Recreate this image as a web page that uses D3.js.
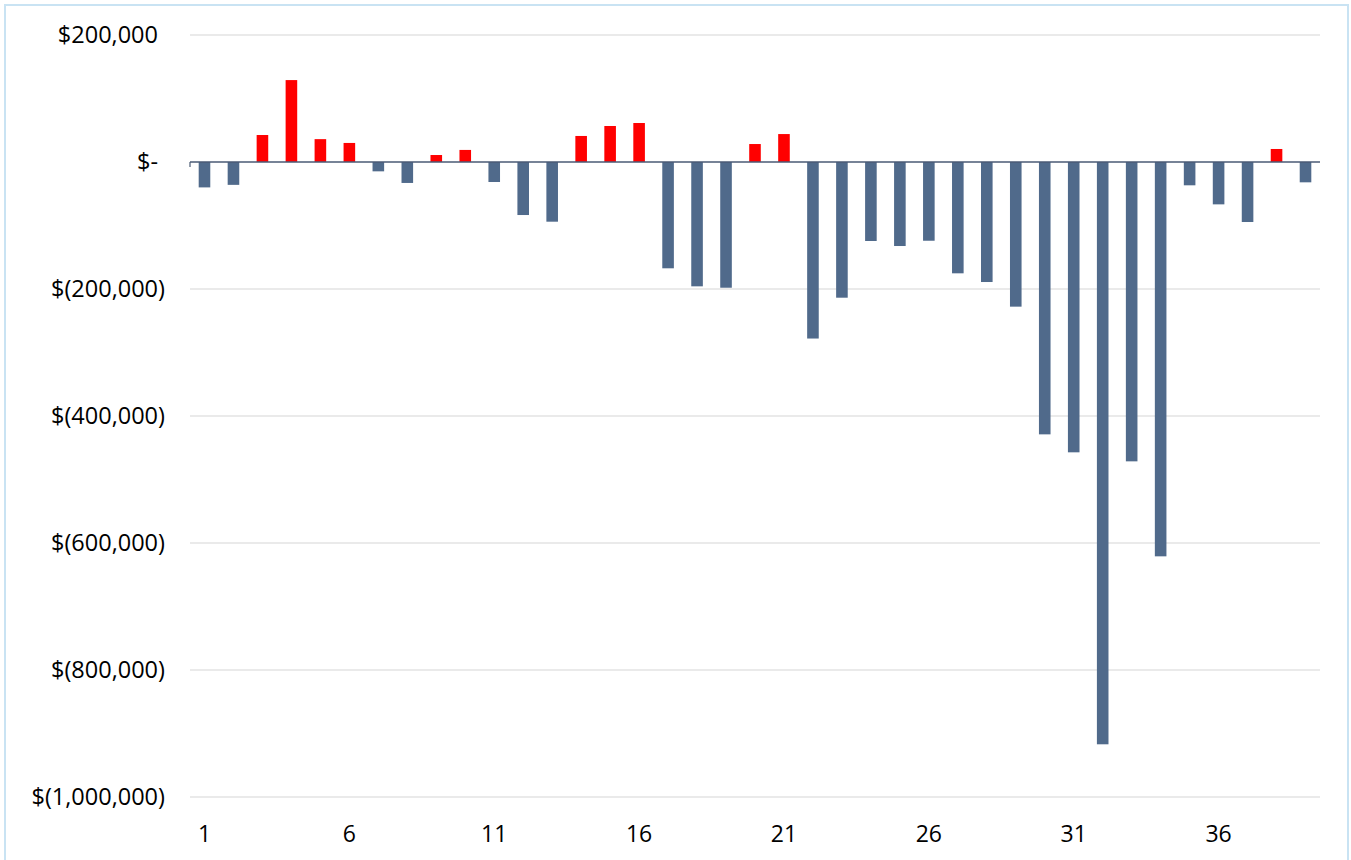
<!DOCTYPE html>
<html>
<head>
<meta charset="utf-8">
<script src="https://cdn.jsdelivr.net/npm/d3@7"></script>
<style>
  body { margin: 0; background: #fff; }
  svg text { font-family: "Open Sans", "Noto Sans", sans-serif; fill: #000; }
</style>
</head>
<body>
<svg id="chart" width="1351" height="860"></svg>
<script>
// period numbers 1..39
const periods = [1, 2, 3, 4, 5, 6, 7, 8, 9, 10, 11, 12, 13, 14, 15, 16, 17, 18, 19, 20,
  21, 22, 23, 24, 25, 26, 27, 28, 29, 30, 31, 32, 33, 34, 35, 36, 37, 38, 39];

// net value per period
const values = [-40000, -36000, 42500, 129000, 36000, 30000, -14700, -33000, 11000, 19000,
  -31500, -83500, -94000, 41000, 56700, 61400, -167400, -195800, -198000, 28300,
  44000, -278000, -213700, -124400, -132300, -124000, -175300, -189000, -227800, -428900,
  -457200, -917000, -471400, -621000, -36700, -66700, -94500, 20500, -32000];

const yTicks = [200000, 0, -200000, -400000, -600000, -800000, -1000000];
const xTickLabels = [1, 6, 11, 16, 21, 26, 31, 36];

const data = periods.map((p, i) => ({ period: p, value: values[i] }));

const svg = d3.select('#chart');

// chart frame
svg.append('rect')
  .attr('x', 5).attr('y', 5)
  .attr('width', 1343).attr('height', 870)
  .attr('fill', 'none')
  .attr('stroke', '#c9e3f3')
  .attr('stroke-width', 2);

const x = d3.scaleBand()
  .domain(periods)
  .range([190, 1320])
  .paddingInner(0.6)
  .paddingOuter(0.3);

const y = d3.scaleLinear()
  .domain([-1000000, 200000])
  .range([797, 35]);

const fmt = v => {
  if (v === 0) return '$-';
  const s = d3.format(',')(Math.abs(v));
  return v < 0 ? `$(${s})` : `$${s}`;
};

// gridlines
svg.append('g')
  .selectAll('line')
  .data(yTicks.filter(d => d !== 0))
  .enter().append('line')
  .attr('x1', 190).attr('x2', 1320)
  .attr('y1', d => y(d)).attr('y2', d => y(d))
  .attr('stroke', '#e3e3e3')
  .attr('stroke-width', 1.5);

// y labels
svg.append('g')
  .selectAll('text')
  .data(yTicks)
  .enter().append('text')
  .attr('x', d => d < 0 ? 165 : 158)
  .attr('y', d => y(d))
  .attr('dy', '0.36em')
  .attr('text-anchor', 'end')
  .style('font-size', '23.5px')
  .text(fmt);

// bars
svg.append('g')
  .selectAll('rect')
  .data(data)
  .enter().append('rect')
  .attr('x', d => x(d.period))
  .attr('y', d => y(Math.max(0, d.value)))
  .attr('width', x.bandwidth())
  .attr('height', d => Math.abs(y(d.value) - y(0)))
  .attr('fill', d => d.value >= 0 ? '#ff0000' : '#506a8b');

// zero axis line
svg.append('line')
  .attr('x1', 190).attr('x2', 1320)
  .attr('y1', y(0)).attr('y2', y(0))
  .attr('stroke', '#4a5a74')
  .attr('stroke-width', 1.5);
svg.append('line')
  .attr('x1', 190).attr('x2', 190)
  .attr('y1', y(0)).attr('y2', y(0) + 5)
  .attr('stroke', '#4a5a74')
  .attr('stroke-width', 1.2);

// x labels
svg.append('g')
  .selectAll('text')
  .data(xTickLabels)
  .enter().append('text')
  .attr('x', d => x(d) + x.bandwidth() / 2)
  .attr('y', 842)
  .attr('text-anchor', 'middle')
  .style('font-size', '23px')
  .text(d => d);
</script>
</body>
</html>
